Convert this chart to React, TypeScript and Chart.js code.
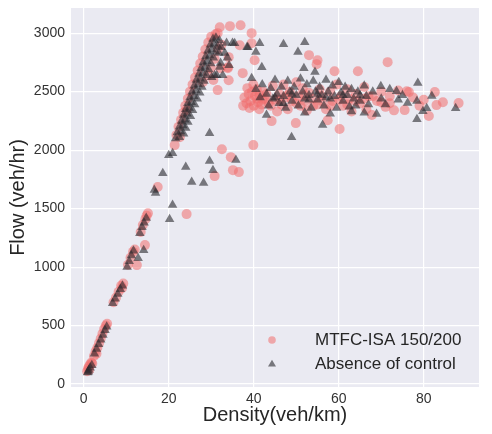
import React, { useEffect, useRef } from "react";
import { Chart, registerables } from "chart.js";

Chart.register(...registerables);

const mtfcLabel = "MTFC-ISA 150/200";
const noControlLabel = "Absence of control";
const xAxisTitle = "Density(veh/km)";
const yAxisTitle = "Flow (veh/hr)";
const xTickValues = [0, 20, 40, 60, 80];
const yTickValues = [0, 500, 1000, 1500, 2000, 2500, 3000];

// MTFC-ISA 150/200 : [density, flow]
const mtfcPoints: [number, number][] = [
  [0.8, 110], [1.0, 130], [1.2, 150], [1.5, 170], [1.8, 185], [2.0, 175], [1.3, 120],
  [2.4, 240], [2.8, 280], [3.0, 260], [3.2, 310], [3.6, 350], [4.0, 390], [4.4, 430], [4.8, 470], [5.2, 500], [5.5, 515],
  [7.0, 700], [7.6, 740], [8.2, 790], [8.8, 840], [9.0, 820], [9.3, 860],
  [10.4, 1020], [11.0, 1080], [11.6, 1130], [12.0, 1150], [12.5, 1017], [14.4, 1188],
  [13.4, 1300], [13.9, 1360], [14.5, 1410], [14.8, 1440], [15.1, 1460],
  [17.4, 1684], [21.4, 2043], [24.2, 1453],
  [21.8, 2130], [22.3, 2200], [22.6, 2111], [22.9, 2260], [23.4, 2320], [23.9, 2380], [24.2, 2342], [24.5, 2440],
  [25.0, 2500], [25.6, 2560], [26.2, 2620], [26.8, 2680], [27.4, 2740], [28.0, 2800], [28.6, 2860], [29.3, 2920],
  [30.0, 2970], [31.0, 2990], [31.5, 3000],
  [28.0, 2580], [29.2, 2641], [29.9, 2700], [30.8, 2780], [31.6, 2860], [32.4, 2900], [30.5, 2600], [31.5, 2513],
  [32.2, 2700], [33.9, 2709], [34.1, 2598], [34.1, 2795], [33.9, 2700],
  [32.0, 3051], [34.4, 3060], [36.9, 3068], [39.5, 3000], [36.7, 2897], [39.5, 2914], [37.4, 2658], [40.2, 2769],
  [32.5, 2008], [34.6, 1940], [35.1, 1829], [36.5, 1812], [30.8, 1778], [39.9, 2043],
  [37.8, 2450], [38.3, 2400], [38.8, 2480], [39.2, 2420], [39.6, 2500], [40.0, 2380], [40.3, 2460], [40.7, 2520],
  [41.0, 2410], [41.4, 2470], [41.8, 2390], [42.2, 2500], [42.6, 2440], [38.5, 2530], [39.9, 2560], [41.3, 2350],
  [37.5, 2380], [43.0, 2480], [43.5, 2400], [39.0, 2360], [40.8, 2440], [42.0, 2430],
  [44.2, 2248], [44.5, 2550], [45.0, 2430], [45.5, 2330], [46.0, 2480], [46.5, 2390], [47.0, 2560], [47.5, 2450],
  [48.0, 2350], [48.5, 2500], [49.0, 2420], [49.9, 2231], [50.0, 2580], [50.5, 2460], [51.0, 2380], [51.5, 2530],
  [52.0, 2420], [52.5, 2340], [53.0, 2812], [53.0, 2490], [54.0, 2440], [54.8, 2735], [55.0, 2769], [55.0, 2390],
  [55.5, 2520], [56.0, 2460], [57.0, 2350], [57.4, 2256], [58.0, 2500], [58.5, 2420], [59.0, 2675], [59.5, 2560],
  [60.2, 2180], [60.5, 2460], [61.0, 2380], [62.0, 2520], [62.5, 2440], [63.0, 2330], [64.0, 2480], [64.5, 2675],
  [65.0, 2400], [66.0, 2540], [66.5, 2350], [67.0, 2460], [67.8, 2300], [69.0, 2420], [70.0, 2500], [71.0, 2370],
  [71.5, 2752], [72.0, 2460], [73.0, 2340], [74.0, 2510], [75.5, 2342], [76.0, 2504], [76.5, 2496], [77.5, 2450],
  [79.0, 2380], [80.0, 2430], [81.2, 2291], [82.6, 2496], [83.0, 2385], [84.5, 2410], [88.2, 2402],
  [44.0, 2380], [46.0, 2430], [48.0, 2470], [50.0, 2400], [52.0, 2470], [54.0, 2380], [56.0, 2420], [58.0, 2380],
  [60.0, 2430], [62.0, 2390], [64.0, 2420], [66.0, 2440], [68.0, 2460], [70.0, 2410], [72.0, 2400],
];

// Absence of control : [density, flow]
const noControlPoints: [number, number][] = [
  [0.9, 100], [1.1, 105], [1.2, 120], [1.5, 140], [1.9, 160],
  [2.5, 260], [3.0, 300], [3.5, 340], [4.0, 380], [4.5, 420], [5.0, 460], [5.4, 490],
  [6.8, 690], [7.4, 730], [8.0, 770], [8.6, 810], [9.1, 840],
  [10.2, 1000], [10.7, 1050], [11.2, 1100], [11.7, 1140], [12.8, 1075], [14.1, 1145],
  [13.2, 1290], [13.7, 1340], [14.2, 1380], [14.7, 1420],
  [16.6, 1660], [16.9, 1633], [18.6, 1803], [20.0, 1957], [20.9, 1974], [20.9, 1530], [20.2, 1410],
  [21.6, 2100], [22.5, 2110],
  [22.0, 2150], [22.8, 2160], [23.5, 2140],
  [22.5, 2200], [23.3, 2210], [24.0, 2190],
  [23.0, 2250], [23.8, 2260], [24.5, 2240],
  [23.5, 2300], [24.3, 2310], [25.1, 2290],
  [24.0, 2350], [24.8, 2360], [25.6, 2340],
  [24.5, 2400], [25.3, 2410], [26.1, 2390],
  [25.0, 2450], [25.9, 2460], [26.7, 2440],
  [25.5, 2500], [26.4, 2510], [27.3, 2490],
  [26.0, 2550], [26.9, 2560], [27.8, 2540],
  [26.5, 2600], [27.4, 2610], [28.3, 2590],
  [27.1, 2650], [28.0, 2660], [28.9, 2640],
  [27.6, 2700], [28.5, 2710], [29.4, 2690],
  [28.1, 2750], [29.0, 2760], [29.9, 2740],
  [28.7, 2800], [29.6, 2810], [30.5, 2790],
  [29.2, 2850], [30.1, 2860], [31.0, 2840], [31.8, 2830],
  [29.8, 2900], [30.6, 2910], [31.5, 2890], [32.3, 2880],
  [30.4, 2950], [31.1, 2960], [31.9, 2940],
  [33.2, 2830], [33.8, 2790], [32.2, 2744], [30.8, 2641], [30.1, 2624], [32.0, 2710],
  [29.6, 2145], [24.0, 1855], [25.4, 1727], [28.2, 1718], [29.6, 1906], [30.4, 1829], [35.8, 1915],
  [33.6, 2915], [35.0, 2915], [35.5, 2914], [38.4, 2880], [38.6, 2880], [41.4, 2914], [40.5, 2838], [34.2, 2726],
  [31.3, 2641], [32.7, 2641], [39.5, 2615], [41.9, 2709], [47.0, 2906], [52.0, 2923], [50.4, 2838], [51.8, 2701],
  [54.4, 2667], [48.9, 2111], [56.2, 2214],
  [40.5, 2520], [41.5, 2450], [42.0, 2560], [43.0, 2480], [43.5, 2380], [44.0, 2530], [44.5, 2440], [45.0, 2600],
  [45.5, 2480], [46.0, 2400], [46.5, 2540], [47.0, 2460], [47.5, 2360], [48.0, 2590], [48.5, 2500], [49.0, 2420],
  [49.5, 2540], [50.0, 2470], [50.5, 2380], [51.0, 2610], [51.5, 2500], [52.0, 2440], [52.5, 2560], [53.0, 2470],
  [53.5, 2360], [54.0, 2590], [54.5, 2500], [55.0, 2430], [55.5, 2540], [56.0, 2470], [56.5, 2380], [57.0, 2600],
  [57.5, 2500], [58.0, 2440], [58.5, 2550], [59.0, 2460], [59.5, 2360], [60.0, 2580], [60.5, 2490], [61.0, 2420],
  [61.5, 2540], [62.0, 2470], [62.5, 2370], [63.0, 2520], [63.5, 2440], [64.0, 2380], [64.5, 2500], [65.0, 2420],
  [66.0, 2550], [66.5, 2460], [67.0, 2390], [68.0, 2500], [70.0, 2440], [71.0, 2390], [72.0, 2520], [74.0, 2430],
  [75.0, 2470], [43.0, 2300], [52.0, 2320], [58.0, 2310], [63.0, 2330], [66.0, 2320],
  [68.9, 2308], [69.9, 2547], [73.6, 2504], [76.2, 2402], [78.4, 2419], [78.4, 2265], [78.6, 2573], [79.8, 2333],
  [80.7, 2359], [81.9, 2462], [87.5, 2359],
  [45.0, 2450], [49.0, 2480], [53.0, 2430], [57.0, 2450], [61.0, 2470], [65.0, 2470], [47.0, 2400], [55.0, 2480],
];

const FONT = "'Liberation Sans', Arial, sans-serif";
const PINK = "rgba(240,110,110,0.55)";
const GRAY = "rgba(40,40,45,0.6)";

export default function App() {
  const ref = useRef<HTMLCanvasElement>(null);

  useEffect(() => {
    if (!ref.current) return;

    const bgPlugin = {
      id: "bgArea",
      beforeDraw(chart: any) {
        const { ctx, chartArea } = chart;
        ctx.save();
        ctx.fillStyle = "#EAEAF2";
        ctx.fillRect(chartArea.left, chartArea.top, chartArea.right - chartArea.left, chartArea.bottom - chartArea.top);
        ctx.restore();
      },
    };

    const legendPlugin = {
      id: "innerLegend",
      afterDatasetsDraw(chart: any) {
        const { ctx, chartArea } = chart;
        const mx = chartArea.right - 207;
        const tx = chartArea.right - 164;
        const y1 = chartArea.bottom - 47;
        const y2 = chartArea.bottom - 23;
        ctx.save();
        ctx.fillStyle = PINK;
        ctx.beginPath();
        ctx.arc(mx, y1, 3.8, 0, Math.PI * 2);
        ctx.fill();
        ctx.fillStyle = GRAY;
        const r = 4.2;
        ctx.beginPath();
        ctx.moveTo(mx, y2 - r);
        ctx.lineTo(mx + r * 0.95, y2 + r * 0.6);
        ctx.lineTo(mx - r * 0.95, y2 + r * 0.6);
        ctx.closePath();
        ctx.fill();
        ctx.fillStyle = "#262626";
        ctx.font = `17px ${FONT}`;
        ctx.textBaseline = "middle";
        ctx.textAlign = "left";
        ctx.fillText(mtfcLabel, tx, y1);
        ctx.fillText(noControlLabel, tx, y2);
        ctx.restore();
      },
    };

    const chart = new Chart(ref.current, {
      type: "scatter",
      data: {
        datasets: [
          {
            label: mtfcLabel,
            data: mtfcPoints.map(([x, y]) => ({ x, y })),
            pointStyle: "circle",
            pointRadius: 5,
            pointHoverRadius: 5,
            backgroundColor: PINK,
            borderWidth: 0,
            order: 1,
          },
          {
            label: noControlLabel,
            data: noControlPoints.map(([x, y]) => ({ x, y })),
            pointStyle: "triangle",
            pointRadius: 5.5,
            pointHoverRadius: 5.5,
            backgroundColor: GRAY,
            borderWidth: 0,
            order: 0,
          },
        ],
      },
      options: {
        animation: false,
        responsive: false,
        maintainAspectRatio: false,
        layout: { padding: { left: 0, right: 13, top: 8, bottom: 0 } },
        plugins: { legend: { display: false }, tooltip: { enabled: false } },
        scales: {
          x: {
            type: "linear",
            min: -3,
            max: 93,
            afterBuildTicks(s: any) {
              s.ticks = xTickValues.map((v) => ({ value: v }));
            },
            afterFit(s: any) {
              s.height = 47;
              s.paddingLeft = 0;
              s.paddingRight = 0;
            },
            ticks: { padding: 4, color: "#333", font: { size: 14, family: FONT }, callback: (v: any) => String(v) },
            grid: { color: "#ffffff", lineWidth: 1.2, drawTicks: false },
            border: { display: false },
            title: {
              display: true,
              text: xAxisTitle,
              color: "#262626",
              font: { size: 20, family: FONT },
              padding: { top: 0, bottom: 7 },
            },
          },
          y: {
            type: "linear",
            min: -25,
            max: 3215,
            afterBuildTicks(s: any) {
              s.ticks = yTickValues.map((v) => ({ value: v }));
            },
            afterFit(s: any) {
              s.width = 71;
              s.paddingTop = 0;
              s.paddingBottom = 0;
            },
            ticks: { padding: 6, color: "#333", font: { size: 14, family: FONT }, callback: (v: any) => String(v) },
            grid: { color: "#ffffff", lineWidth: 1.2, drawTicks: false },
            border: { display: false },
            title: {
              display: true,
              text: yAxisTitle,
              color: "#262626",
              font: { size: 20, family: FONT },
              padding: { top: 6, bottom: 0 },
            },
          },
        },
      },
      plugins: [bgPlugin, legendPlugin],
    } as any);

    return () => chart.destroy();
  }, []);

  return (
    <div style={{ position: "fixed", left: 0, top: 0, width: 492, height: 434, background: "#fff" }}>
      <canvas ref={ref} width={492} height={434} style={{ display: "block" }} />
    </div>
  );
}
